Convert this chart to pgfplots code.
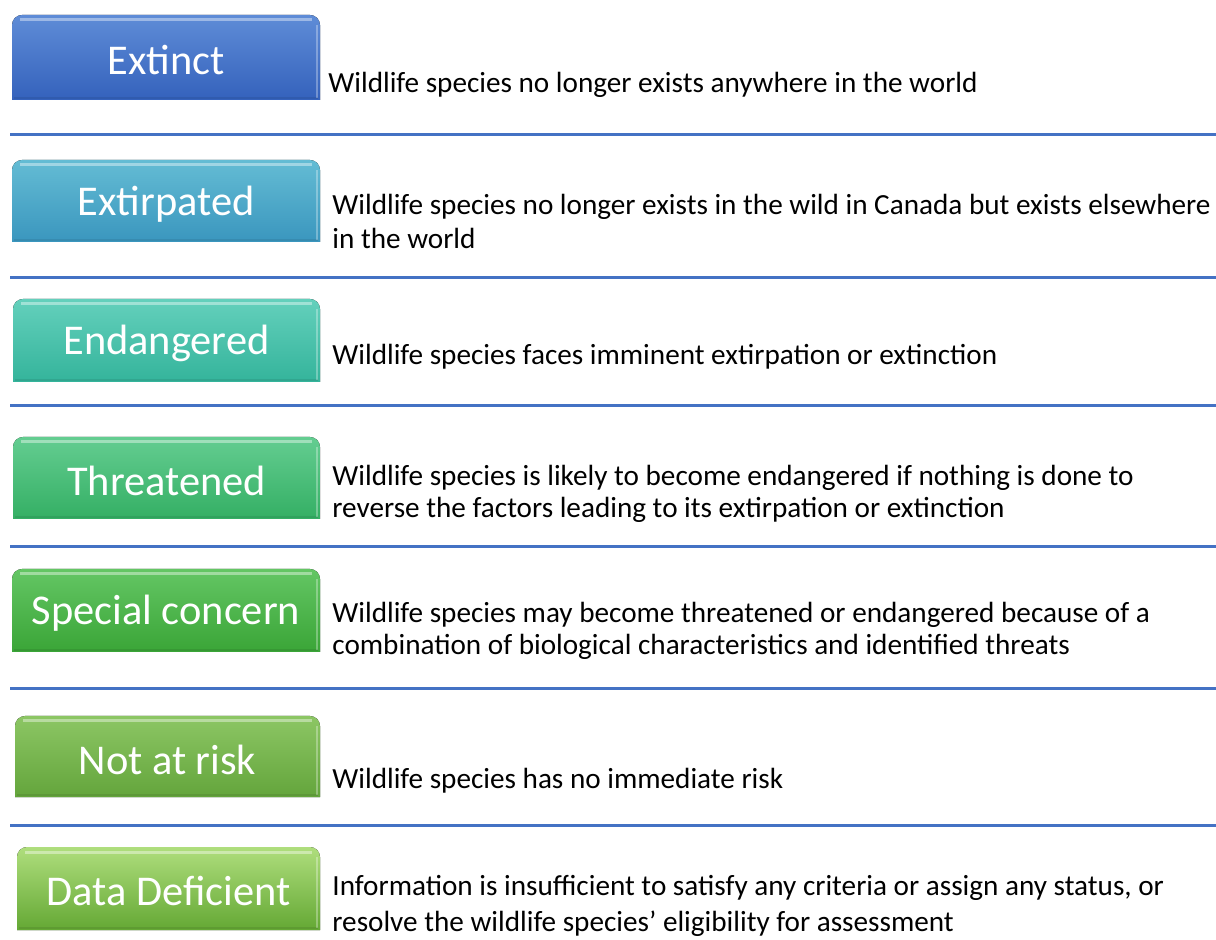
\documentclass[border=0pt]{standalone}
\usepackage{pgfplots}
\pgfplotsset{compat=1.18}
\usepackage{fontspec}
\setmainfont{Carlito}
\definecolor{sep}{RGB}{68,114,196}
\definecolor{aT}{RGB}{95,140,215}\definecolor{aB}{RGB}{52,98,188}
\definecolor{bT}{RGB}{100,188,212}\definecolor{bB}{RGB}{58,150,190}
\definecolor{cT}{RGB}{100,208,188}\definecolor{cB}{RGB}{52,180,155}
\definecolor{dT}{RGB}{100,205,145}\definecolor{dB}{RGB}{52,175,100}
\definecolor{eT}{RGB}{100,198,100}\definecolor{eB}{RGB}{58,165,55}
\definecolor{fT}{RGB}{140,198,100}\definecolor{fB}{RGB}{100,165,60}
\definecolor{gT}{RGB}{175,222,125}\definecolor{gB}{RGB}{100,168,52}
\newcommand{\catbox}[7]{% x1,y1,x2,y2,top,bottom,label
  \fill[top color=#5,bottom color=#6] (axis cs:#1,#4) [rounded corners=5pt]-- (axis cs:#1,#2) -- (axis cs:#3,#2) [sharp corners]-- (axis cs:#3,#4) -- cycle;
  \draw[white,opacity=0.4,line width=1.5pt] (axis cs:#1+8,#2+5) -- (axis cs:#3-8,#2+5);
  \draw[white,opacity=0.3,line width=1.2pt] (axis cs:#3-3,#2+10) -- (axis cs:#3-3,#4-2);
  \draw[black,opacity=0.08,line width=1.2pt] (axis cs:#1+2,#4-2) -- (axis cs:#3-2,#4-2);
  \node[white,font=\fontsize{21.2}{25}\selectfont] at (axis cs:{(#1+#3)/2},{(#2+#4)/2+3}) {#7};
}
\newcommand{\desc}[3]{\node[anchor=base west,inner sep=0pt,font=\fontsize{14.6}{17}\selectfont] at (axis cs:#1,#2) {#3};}
\begin{document}
\begin{tikzpicture}
\begin{axis}[name=ax,
  scale only axis, width=608pt, height=470pt,
  xmin=0, xmax=1216, ymin=0, ymax=940, y dir=reverse,
  hide axis, clip=false]
% separator lines
\addplot[sep, line width=1.5pt] coordinates {(10,135) (1216,135)};
\addplot[sep, line width=1.5pt] coordinates {(10,278) (1216,278)};
\addplot[sep, line width=1.5pt] coordinates {(10,406) (1216,406)};
\addplot[sep, line width=1.5pt] coordinates {(10,547) (1216,547)};
\addplot[sep, line width=1.5pt] coordinates {(10,689) (1216,689)};
\addplot[sep, line width=1.5pt] coordinates {(10,825) (1216,825)};
\catbox{12}{15}{320}{100}{aT}{aB}{Extinct}
\catbox{12}{160}{320}{242}{bT}{bB}{Extirpated}
\catbox{13}{299}{320}{382}{cT}{cB}{Endangered}
\catbox{13}{437}{320}{519}{dT}{dB}{Threatened}
\catbox{12}{569}{320}{652}{eT}{eB}{Special concern}
\catbox{15}{716}{320}{797}{fT}{fB}{Not at risk}
\catbox{17}{847}{320}{930}{gT}{gB}{Data Deficient}
\desc{328}{93}{Wildlife species no longer exists anywhere in the world}
\desc{332}{215}{Wildlife species no longer exists in the wild in Canada but exists elsewhere}
\desc{332}{249}{in the world}
\desc{332}{365}{Wildlife species faces imminent extirpation or extinction}
\desc{332}{486}{Wildlife species is likely to become endangered if nothing is done to}
\desc{332}{518}{reverse the factors leading to its extirpation or extinction}
\desc{332}{623}{Wildlife species may become threatened or endangered because of a}
\desc{332}{655}{combination of biological characteristics and identified threats}
\desc{332}{789}{Wildlife species has no immediate risk}
\desc{332}{895}{Information is insufficient to satisfy any criteria or assign any status, or}
\desc{332}{931}{resolve the wildlife species’ eligibility for assessment}
\end{axis}
\pgfresetboundingbox
\path (ax.south west) rectangle (ax.north east);
\end{tikzpicture}
\end{document}
